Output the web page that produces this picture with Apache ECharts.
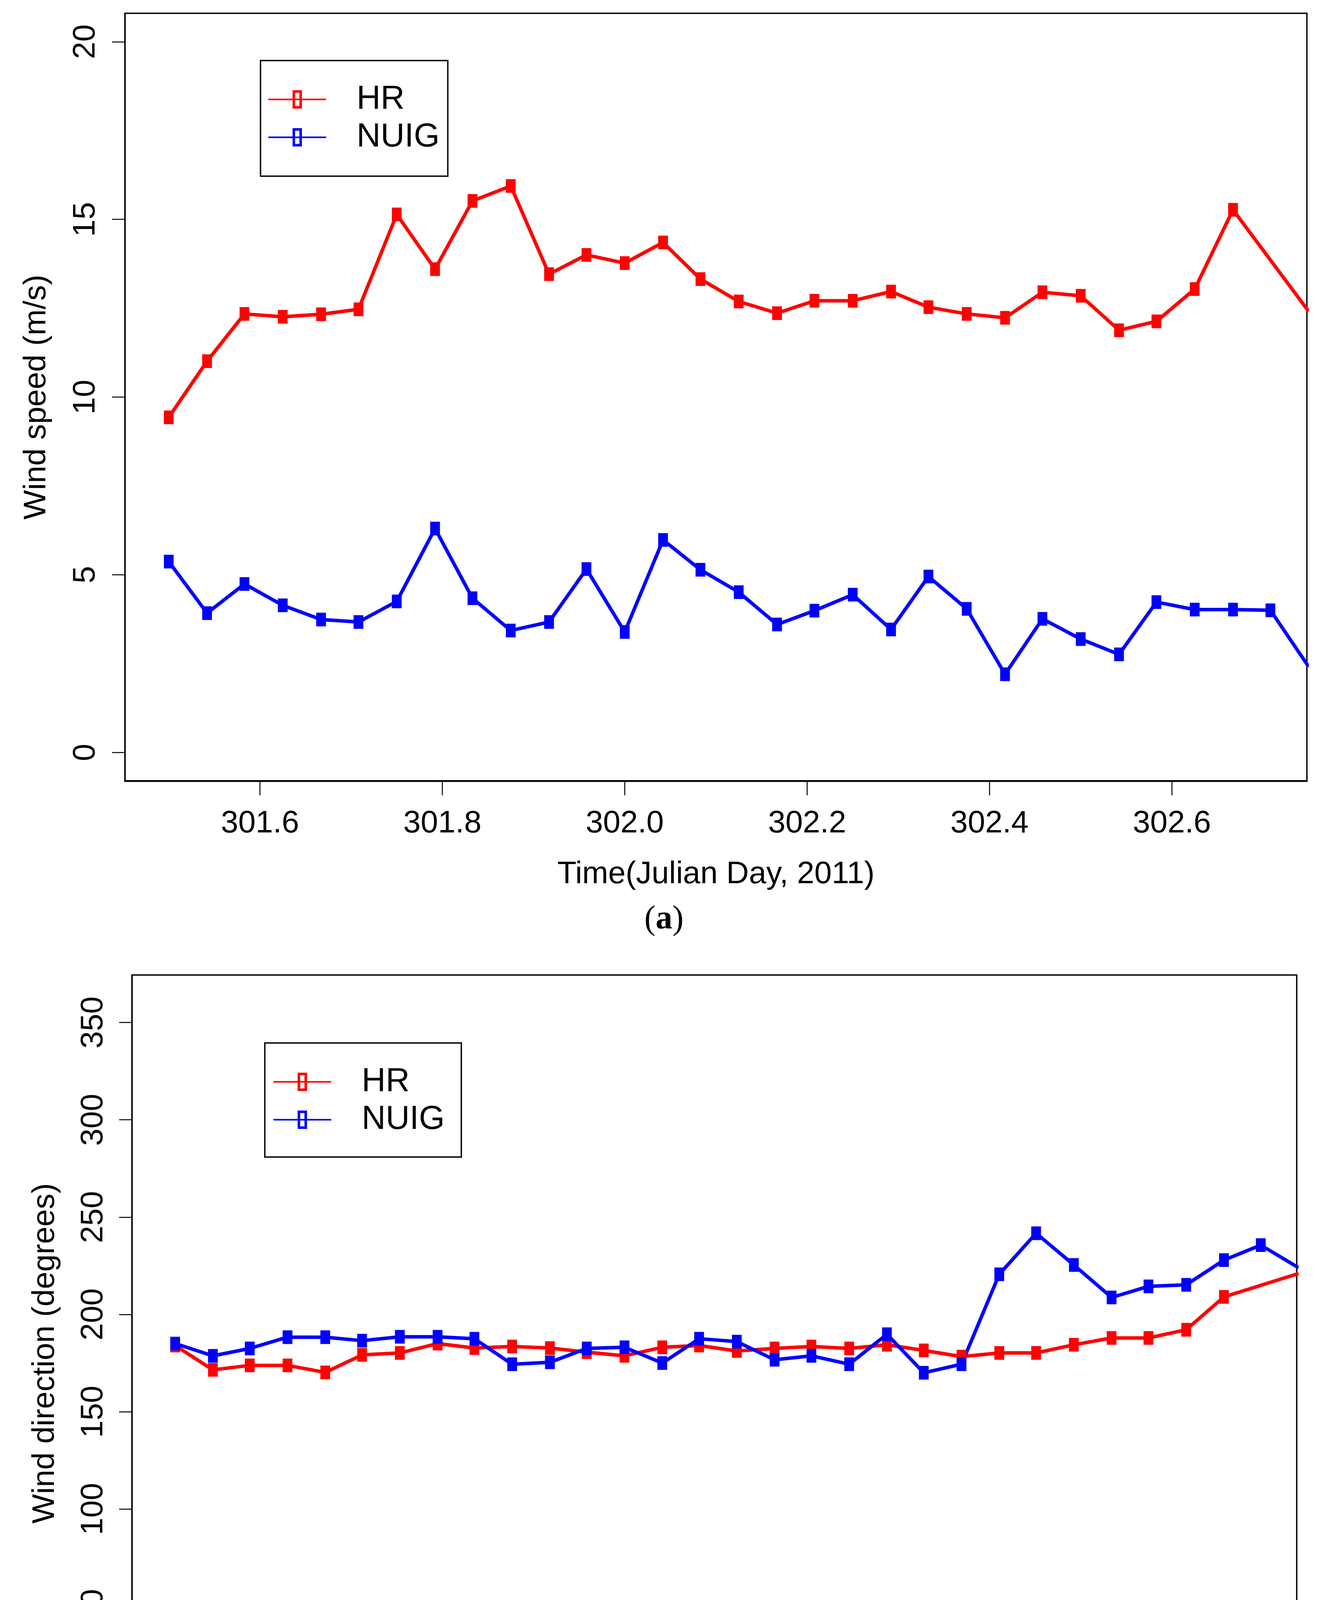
<!DOCTYPE html>
<html><head><meta charset="utf-8">
<script src="https://cdn.jsdelivr.net/npm/echarts@6/dist/echarts.min.js"></script>
<style>html,body{margin:0;padding:0;background:#fff;} #chart{width:3377px;height:4817px;}</style>
</head><body><div id="chart"></div>
<script>
// ---- data (Julian day, 2011; hourly samples) ----
const time = [301.500, 301.542, 301.583, 301.625, 301.667, 301.708, 301.750, 301.792, 301.833, 301.875,
              301.917, 301.958, 302.000, 302.042, 302.083, 302.125, 302.167, 302.208, 302.250, 302.292,
              302.333, 302.375, 302.417, 302.458, 302.500, 302.542, 302.583, 302.625, 302.667, 302.708, 302.750];
const speedHR   = [9.43, 11.01, 12.34, 12.26, 12.33, 12.47, 15.14, 13.60, 15.52, 15.94,
                   13.46, 14.00, 13.77, 14.35, 13.32, 12.69, 12.36, 12.71, 12.71, 12.97,
                   12.53, 12.34, 12.23, 12.95, 12.85, 11.88, 12.13, 13.04, 15.27, null, 12.41];
const speedNUIG = [5.37, 3.92, 4.74, 4.14, 3.74, 3.67, 4.25, 6.30, 4.34, 3.43,
                   3.67, 5.16, 3.39, 5.98, 5.14, 4.51, 3.60, 3.99, 4.44, 3.46,
                   4.95, 4.04, 2.20, 3.76, 3.19, 2.76, 4.23, 4.02, 4.02, 4.00, 2.41];
const dirHR     = [184.0, 171.5, 173.8, 173.8, 170.2, 179.2, 180.2, 185.0, 182.7, 183.5,
                   182.7, 180.6, 178.7, 183.1, 184.0, 181.2, 182.5, 183.5, 182.5, 184.4,
                   181.5, 178.3, 180.2, 180.2, 184.4, 187.9, 187.9, 192.1, 209.0, null, 221.0];
const dirNUIG   = [185.0, 178.7, 182.5, 188.3, 188.3, 186.5, 188.5, 188.5, 187.5, 174.4,
                   175.4, 182.5, 183.1, 175.0, 187.5, 186.0, 176.7, 178.7, 174.4, 189.8,
                   170.0, 174.4, 220.6, 241.7, 225.4, 208.7, 214.4, 215.2, 227.9, 235.6, 224.0];
const seriesNames = ['HR', 'NUIG'];
const xTicks = [301.6, 301.8, 302.0, 302.2, 302.4, 302.6];
const speedTicks = [0, 5, 10, 15, 20];
const dirTicks = [0, 50, 100, 150, 200, 250, 300, 350];
const xLim = [301.5, 302.7];
const speedLim = [0, 20];
const dirLim = [0, 360];

// ---- helpers ----
const RED = '#FF0000', BLUE = '#0000FF';
const FONT = "'Liberation Sans', Arial, sans-serif";
function expand(lim) { const d = (lim[1] - lim[0]) * 0.04; return [lim[0] - d, lim[1] + d]; }
function pairs(xs, ys) { return xs.map((x, i) => [x, ys[i]]); }
const xr = expand(xLim), sr = expand(speedLim), dr = expand(dirLim);

const iconPath = 'path://M0,21.5 L148,21.5 L148,25.5 L0,25.5 Z ' +
  'M62,0 L86,0 L86,47 L62,47 Z M68.5,6.5 L68.5,40.5 L79.5,40.5 L79.5,6.5 Z';

function xAxisCfg(gi, gap, margin) {
  return {
    gridIndex: gi, type: 'value', min: xr[0], max: xr[1],
    name: 'Time(Julian Day, 2011)', nameLocation: 'middle', nameGap: gap,
    nameTextStyle: { fontSize: 80, fontFamily: FONT, color: '#000' },
    axisLine: { show: true, onZero: false, lineStyle: { color: '#000', width: 4.5 } },
    axisTick: { show: true, customValues: xTicks, length: 37, lineStyle: { color: '#000', width: 2.5 } },
    axisLabel: { show: true, customValues: xTicks, margin: margin, fontSize: 80, fontFamily: FONT, color: '#000',
                 formatter: v => Number(v).toFixed(1) },
    splitLine: { show: false }
  };
}
function yAxisCfg(gi, name, rng, ticks, gap, margin) {
  return {
    gridIndex: gi, type: 'value', min: rng[0], max: rng[1],
    name: name, nameLocation: 'middle', nameGap: gap,
    nameTextStyle: { fontSize: 80, fontFamily: FONT, color: '#000' },
    axisLine: { show: true, onZero: false, lineStyle: { color: '#000', width: 3.5 } },
    axisTick: { show: true, customValues: ticks, length: 33, lineStyle: { color: '#000', width: 2.5 } },
    axisLabel: { show: true, customValues: ticks, rotate: 90, margin: margin, fontSize: 80, fontFamily: FONT, color: '#000' },
    splitLine: { show: false }
  };
}
function legendCfg(gi, left, top, padding) {
  return {
    show: true, orient: 'vertical', left: left, top: top, padding: padding,
    borderColor: '#000', borderWidth: 3.5, backgroundColor: '#fff',
    itemWidth: 148, itemHeight: 47, itemGap: 12, selectedMode: false,
    itemStyle: { borderWidth: 0 },
    textStyle: { fontSize: 85, fontFamily: FONT, color: '#000', padding: [0, 0, 0, 73] },
    data: [
      { name: seriesNames[0] + (gi ? ' ' : ''), icon: iconPath, itemStyle: { color: RED } },
      { name: seriesNames[1] + (gi ? ' ' : ''), icon: iconPath, itemStyle: { color: BLUE } }
    ]
  };
}
function lineSeries(name, gi, xs, ys, color) {
  return {
    type: 'line', name: name, xAxisIndex: gi, yAxisIndex: gi,
    data: pairs(xs, ys), connectNulls: true, clip: true,
    symbol: 'rect', symbolSize: [25, 35], showSymbol: true,
    itemStyle: { color: color, borderWidth: 0 },
    lineStyle: { color: color, width: 9 },
    emphasis: { disabled: true }, animation: false, z: 3
  };
}

const chart = echarts.init(document.getElementById('chart'), null, { renderer: 'canvas' });
chart.setOption({
  backgroundColor: '#fff',
  animation: false,
  grid: [
    { left: 320, top: 34, width: 3026, height: 1965, show: true, borderColor: '#000', borderWidth: 3.5, backgroundColor: 'transparent', containLabel: false },
    { left: 338, top: 2496, width: 2982, height: 1937, show: true, borderColor: '#000', borderWidth: 3.5, backgroundColor: 'transparent', containLabel: false }
  ],
  xAxis: [ xAxisCfg(0, 200, 70), xAxisCfg(1, 196, 66) ],
  yAxis: [
    yAxisCfg(0, 'Wind speed (m/s)', sr, speedTicks, 186, 60),
    yAxisCfg(1, 'Wind direction (degrees)', dr, dirTicks, 182, 58)
  ],
  legend: [
    legendCfg(0, 667, 155, [57, 21, 57, 20]),
    legendCfg(1, 678, 2670, [57, 19, 53, 22])
  ],
  series: [
    lineSeries(seriesNames[0], 0, time, speedHR, RED),
    lineSeries(seriesNames[1], 0, time, speedNUIG, BLUE),
    lineSeries(seriesNames[0] + ' ', 1, time, dirHR, RED),
    lineSeries(seriesNames[1] + ' ', 1, time, dirNUIG, BLUE)
  ],
  graphic: [
    { type: 'text', x: 1700, y: 2355, silent: true,
      style: { text: '{n|(}{b|a}{n|)}', align: 'center', verticalAlign: 'middle',
               rich: { n: { fontSize: 86, fontFamily: "'Liberation Serif', serif", fill: '#000', color: '#000' },
                       b: { fontSize: 86, fontWeight: 'bold', fontFamily: "'Liberation Serif', serif", fill: '#000', color: '#000' } } } },
    { type: 'text', x: 1701, y: 4779, silent: true,
      style: { text: '{n|(}{b|b}{n|)}', align: 'center', verticalAlign: 'middle',
               rich: { n: { fontSize: 86, fontFamily: "'Liberation Serif', serif", fill: '#000', color: '#000' },
                       b: { fontSize: 86, fontWeight: 'bold', fontFamily: "'Liberation Serif', serif", fill: '#000', color: '#000' } } } }
  ]
});
</script></body></html>
